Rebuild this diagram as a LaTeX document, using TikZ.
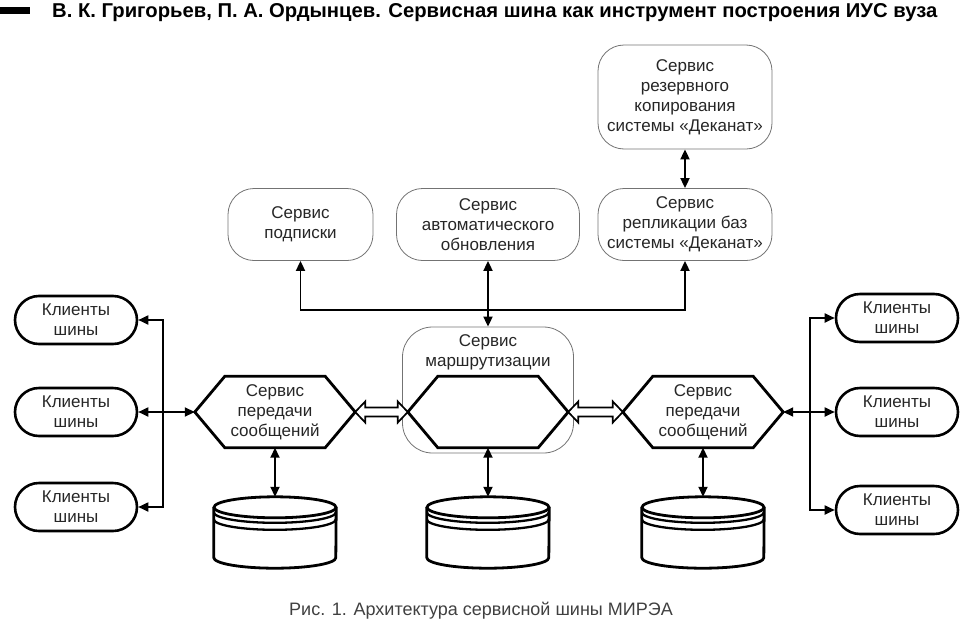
\documentclass[tikz,border=0pt]{standalone}
\usepackage{fontspec}
\setmainfont{Liberation Sans}
\usetikzlibrary{arrows.meta,calc}

\tikzset{
    txt/.style={align=center, text=black!85, font=\fontsize{17}{20}\selectfont},
    service/.style={txt, draw=black!55, line width=0.8pt, rounded corners=26pt},
    client/.style={txt, draw=black, line width=2.6pt, rounded corners=24pt, minimum width=122pt, minimum height=48pt},
    hexa/.style={txt, inner sep=0pt, minimum width=160pt, minimum height=71pt},
    db/.style={inner sep=0pt, minimum width=122pt, minimum height=71pt},
    thickline/.style={line width=2.8pt, line join=miter},
    ringline/.style={line width=2.3pt},
    link/.style={line width=1.8pt, {Triangle[length=10pt,width=9pt]}-{Triangle[length=10pt,width=9pt]}},
    onelink/.style={line width=1.8pt, -{Triangle[length=10pt,width=9pt]}},
    hollow/.style={line width=1.7pt, fill=white, line join=miter}
}

% hollow double arrow between two points
\newcommand{\hollowlink}[2]{%
    \draw[hollow] (#1) -- ++(10,-10.5) -- ++(0,6) -- ($(#2)+(-10,-4.5)$) -- ++(0,-6) -- (#2)
        -- ++(-10,10.5) -- ++(0,-6) -- ($(#1)+(10,4.5)$) -- ++(0,6) -- cycle;
}

\begin{document}
\begin{tikzpicture}[x=1pt,y=-1pt]
    \useasboundingbox (0,0) rectangle (960,629);

    % header line
    \fill (0,7) rectangle (30,14);
    \node[anchor=base west, inner sep=0pt] (title) at (52,18)
        {\resizebox{885pt}{14pt}{\bfseries В. К. Григорьев, П. А. Ордынцев. Сервисная шина как инструмент построения ИУС вуза}};

    % upper services
    \node[service, minimum width=174pt, minimum height=104pt] (rez) at (685,97)
        {Сервис\\резервного\\копирования\\системы «Деканат»};
    \node[service, minimum width=174pt, minimum height=72pt] (repl) at (685,224.5)
        {Сервис\\репликации баз\\системы «Деканат»};
    \node[service, minimum width=145pt, minimum height=72pt] (podp) at (300.5,224.5)
        {Сервис\\подписки};
    \node[service, minimum width=183pt, minimum height=72pt] (avto) at (488,224.5)
        {Сервис\\автоматического\\обновления};

    % routing service box
    \node[service, rounded corners=30pt, minimum width=171pt, minimum height=126pt] (marsh) at (488,390) {};
    \node[txt, anchor=north] (marshtext) at ($(marsh.north)+(0,4)$) {Сервис\\маршрутизации};

    % hexagons
    \node[hexa] (hexL) at (275,412) {Сервис\\передачи\\сообщений};
    \node[hexa] (hexC) at (488,412) {};
    \node[hexa] (hexR) at (703,412) {Сервис\\передачи\\сообщений};
    \foreach \h in {hexL,hexC,hexR}
        \draw[thickline] (\h.west) -- ($(\h.north west)+(30,0)$) -- ($(\h.north east)+(-30,0)$)
            -- (\h.east) -- ($(\h.south east)+(-30,0)$) -- ($(\h.south west)+(30,0)$) -- cycle;

    % databases
    \node[db] (dbL) at (275,532.5) {};
    \node[db] (dbC) at (488,532.5) {};
    \node[db] (dbR) at (703,532.5) {};
    \foreach \d in {dbL,dbC,dbR} {
        \draw[thickline] ($(\d.north)+(0,10.5)$) ellipse [x radius=61, y radius=10.5];
        \draw[thickline] ($(\d.north west)+(0,10.5)$) -- ($(\d.south west)+(0,-10.5)$)
            arc[start angle=180, end angle=0, x radius=61, y radius=10.5] -- ($(\d.north east)+(0,10.5)$);
        \draw[ringline] ($(\d.north west)+(0,15.5)$) arc[start angle=180, end angle=0, x radius=61, y radius=10.5];
        \draw[ringline] ($(\d.north west)+(0,22.5)$) arc[start angle=180, end angle=0, x radius=61, y radius=10.5];
    }

    % clients
    \node[client] (cliL1) at (76,320) {Клиенты\\шины};
    \node[client] (cliL2) at (76,412) {Клиенты\\шины};
    \node[client] (cliL3) at (76,507) {Клиенты\\шины};
    \node[client] (cliR1) at (897,318) {Клиенты\\шины};
    \node[client] (cliR2) at (897,412) {Клиенты\\шины};
    \node[client] (cliR3) at (897,510) {Клиенты\\шины};
    \coordinate (jL) at (163,412);
    \coordinate (jR) at (810,412);

    % connectors
    \draw[link] (rez.south) -- (repl.north);
    \coordinate (bus) at (488,310);
    \draw[link] (podp.south) |- (bus) -| (repl.south);
    \draw[link] (avto.south) -- (marsh.north);

    \draw[link] (hexL.west) -- (cliL2.east);
    \draw[onelink] (jL) |- (cliL1.east);
    \draw[onelink] (jL) |- (cliL3.east);
    \draw[link] (hexR.east) -- (cliR2.west);
    \draw[onelink] (jR) |- (cliR1.west);
    \draw[onelink] (jR) |- (cliR3.west);

    \draw[link] (hexL.south) -- (dbL.north);
    \draw[link] (hexC.south) -- (dbC.north);
    \draw[link] (hexR.south) -- (dbR.north);

    \hollowlink{hexL.east}{hexC.west}
    \hollowlink{hexC.east}{hexR.west}

    % caption
    \node[text=black!75, font=\fontsize{18}{20}\selectfont] (caption) at (481,611)
        {Рис. 1. Архитектура сервисной шины МИРЭА};
\end{tikzpicture}
\end{document}
